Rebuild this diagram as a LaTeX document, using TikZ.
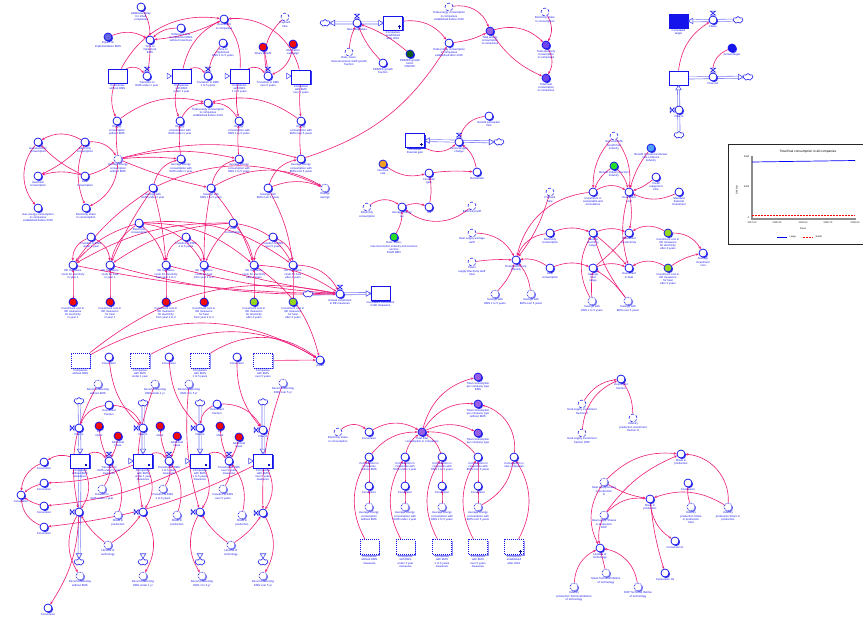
\documentclass[tikz,border=0pt]{standalone}
\usepackage{fontspec}
\setmainfont{Liberation Sans}
\usetikzlibrary{arrows.meta,calc,shapes.symbols,shadows}
\pgfdeclarelayer{bg}
\pgfsetlayers{bg,main}
\definecolor{linkpink}{RGB}{238,30,122}
\definecolor{varblue}{RGB}{20,20,235}
\definecolor{pipeblue}{RGB}{120,120,245}
\definecolor{shadeblue}{RGB}{60,60,220}
\definecolor{purplefill}{RGB}{150,95,230}
\definecolor{violetfill}{RGB}{110,70,235}
\definecolor{brightgreen}{RGB}{40,220,40}
\definecolor{darkgreen}{RGB}{15,90,30}
\definecolor{limefill}{RGB}{150,215,30}
\definecolor{orangefill}{RGB}{240,160,30}
\definecolor{skyfill}{RGB}{80,160,245}
\definecolor{redfill}{RGB}{240,10,10}
\definecolor{impfill}{RGB}{100,100,225}
\tikzset{
  lab/.style={font=\fontsize{2.8}{3.2}\selectfont, text=varblue, align=center, inner sep=0.4pt},
  var/.style={circle, draw=varblue, line width=0.75pt, fill=white, minimum size=8pt, inner sep=0pt,
    drop shadow={shadow xshift=1.1pt, shadow yshift=-1.1pt, fill=varblue!85, opacity=1}},
  tvar/.style={circle, draw=varblue, line width=0.7pt, densely dotted, fill=white, minimum size=8pt, inner sep=0pt,
    drop shadow={shadow xshift=1.1pt, shadow yshift=-1.1pt, fill=varblue!55, opacity=1}},
  ghost/.style={circle, draw=varblue, line width=0.55pt, densely dashed, fill=white, minimum size=8pt, inner sep=0pt},
  stock/.style={rectangle, draw=varblue, line width=0.9pt, fill=white, minimum width=19pt, minimum height=14pt, inner sep=0pt,
    drop shadow={shadow xshift=1.2pt, shadow yshift=-1.2pt, fill=varblue!85, opacity=1}},
  hstock/.style={rectangle, draw=varblue, line width=1pt, densely dotted, fill=white, minimum width=19pt, minimum height=15pt, inner sep=0pt,
    drop shadow={shadow xshift=1.3pt, shadow yshift=-1.3pt, fill=varblue!45, opacity=1}},
  cloudn/.style={cloud, cloud puffs=7, aspect=1.5, draw=varblue, fill=white, line width=0.55pt, minimum width=10pt, minimum height=7pt, inner sep=0pt},
  bowtie/.style={draw=varblue, fill=white, line width=0.55pt},
  pipe/.style={draw=pipeblue, line width=0.6pt, double=white, double distance=1.5pt},
  pipetip/.style={draw=varblue!80, fill=white, line width=0.55pt},
  cn/.style={draw=linkpink, line width=0.62pt, -{Stealth[length=2.8pt,width=2.4pt]}},
  gtext/.style={font=\fontsize{2.4}{2.7}\selectfont, inner sep=0.5pt}
}
% variable with its name written below
\newcommand\vv[4][var]{\node[#1,label={[lab]below:{#4}}] (#2) at (#3) {};}
% flow valves: bow tie above (horizontal pipe) or to the left (vertical pipe)
\newcommand\hvalve[3]{\vv{#1}{#2}{#3}\draw[bowtie] ($(#1)+(-2.5,-8.8)$) -- ++(5,0) -- ++(-5,4) -- ++(5,0) -- cycle;}
\newcommand\vvalve[3]{\vv{#1}{#2}{#3}\draw[bowtie] ($(#1)+(-8.8,-2.5)$) -- ++(0,5) -- ++(4,-5) -- ++(0,5) -- cycle;}
% open head at the end of a pipe
\newcommand\ptip[2]{\draw[pipetip,shift={(#1)},rotate=#2] (0,0) -- (-4.5,2.8) -- (-4.5,-2.8) -- cycle;}
% causal link
\newcommand\lk[3]{\draw[cn] (#1) to[bend left={#3}] (#2);}
\begin{document}
\begin{tikzpicture}[x=1pt,y=-1pt]
\useasboundingbox (0,0) rectangle (863,618);

% ---------------- companies and EMS adoption ----------------
\vv{ad}{141,7}{Additional delay\\for small\\companies}
\vv[var,fill=impfill]{imp}{108,37}{Impact on\\implementation EMS}
\vv{tti}{150,40}{Time to\\implement\\EMS}
\vv{ref}{181,28}{Reference time\\to implement EMS\\without incentives}
\vv{inv}{224,19}{Investment\\in companies}
\vv[ghost]{pay}{285,17}{Payback\\time}
\vv{tti2}{223,43}{Time to\\implement\\EMS 1 to 5 years}
\vv[var,fill=redfill]{shb}{263,47}{Share benefit}
\vv[var,fill=redfill]{inf}{293,44}{Information\\campaign}
\vv[stock]{s0}{117.5,76}{Companies\\without EMS}
\hvalve{v01}{147,76}{Transition to\\EMS under 1 year}
\vv[stock]{s1}{181.5,76}{Companies\\with EMS\\under 1 year}
\hvalve{v12}{208,76}{Transition to EMS\\1 to 5 years}
\vv[stock]{s2}{239.5,76}{Companies\\with EMS\\1 to 5 years}
\hvalve{v23}{268,76}{Transition to EMS\\over 5 years}
\vv[stock]{s3}{301,77}{Companies\\with EMS\\over 5 years}

\vv{tec0}{208,103}{Total energy consumption\\in companies\\established before 2016}
\vv{ec0}{117,121}{Energy\\consumption\\without EMS}
\vv{ec1}{180,121}{Energy\\consumption with\\EMS under 1 year}
\vv{ec2}{239,121}{Energy\\consumption with\\EMS 1 to 5 years}
\vv{ec3}{301,121}{Energy\\consumption with\\EMS over 5 years}
\vv[tvar]{av0}{118,159}{Average energy\\consumption\\without EMS}
\vv{av1}{181,159}{Average energy\\consumption with\\EMS under 1 year}
\vv{av2}{239,159}{Average energy\\consumption with\\EMS 1 to 5 years}
\vv{av3}{301,159}{Average energy\\consumption with\\EMS over 5 years}
\vv{gel}{38,142}{Gas/electricity\\consumption}
\vv{elc}{85,142}{Electricity\\consumption}
\vv{ghc}{38,176}{Gas/heat\\consumption}
\vv{hc}{85,176}{Heat\\consumption}
\vv{gec}{38,208}{Gas energy consumption\\in companies\\established before 2016}
\vv{esc}{86,208}{Electricity share\\in consumption}
\vv{sv0}{153,188}{Savings with\\EMS under 1 year}
\vv{sv1}{211,188}{Savings with\\EMS 1 to 5 years}
\vv{sv2}{268,188}{Savings with\\EMS over 5 years}
\vv[tvar]{esv}{325,188}{Energy\\savings}

% ---------------- new companies ----------------
\node[cloudn] (cg) at (325,23) {};
\hvalve{gr}{357,23}{New companies}
\vv[stock]{sa}{393,23}{Companies\\established\\after 2016}
\vv[ghost]{rmg}{349,52}{Rate, mean,\\macroeconomic GDP growth\\fraction}
\vv{pgf}{383,63}{PRIMES growth\\fraction}
\vv[var,fill=darkgreen]{pgo}{410,54}{PRIMES growth\\factor\\ON/OFF}
\vv{tea}{449,43}{Total energy consumption\\in companies\\established after 2016}
\vv[ghost]{teb}{449,7}{Total energy consumption\\in companies\\established before 2016}
\vv[var,fill=purplefill]{tec}{490,31}{Total energy\\consumption\\in companies}
\vv[ghost]{esg}{545,12}{Electricity share\\in consumption}
\vv[var,fill=violetfill]{tel}{546,45}{Total electricity\\consumption\\in companies}
\vv[var,fill=violetfill]{thc}{546,78}{Total heat\\consumption\\in companies}

% ---------------- target accounting ----------------
\node[stock,fill=varblue,label={[lab]below:{Cumulated\\target}}] (ct) at (678.5,21) {};
\hvalve{fl}{713,20}{Flows}
\node[cloudn] (cfl) at (738,20) {};
\vv[var,fill=varblue]{atg}{732,48}{Annual target}
\vv[stock]{st}{678.5,78}{}
\hvalve{fo}{713,77}{Flow out}
\node[cloudn] (cfo) at (748,77) {};
\vvalve{fi}{679,110}{Flow in}
\node[cloudn] (cfi) at (679,135) {};

% ---------------- perceived financial gain ----------------
\vv[stock]{pfg}{415,140.5}{Perceived\\financial gain}
\hvalve{fgc}{459,142}{Financial gain\\change}
\node[cloudn] (cfg) at (499,142) {};
\vv{bpt}{489,116}{Benefit perception\\time}
\vv{nb}{477,172}{Net benefit}
\vv[var,fill=orangefill]{dr}{383,164}{Discount\\rate}
\vv{fg}{429,173}{Financial\\gain}
\vv{tax}{429,207}{Tax}
\vv[ghost]{elc3}{367,207}{Electricity\\consumption}
\vv{aet}{402,207}{Average energy\\tax}
\vv[var,fill=brightgreen]{rmi}{394,237}{Rate, mean,\\macroeconomic industry and services\\sectors\\EU28 BEN}
\vv[ghost]{etf}{472,206}{Electricity tariff}
\vv[ghost]{hst}{472,233}{Heat supply average\\tariff}
\vv[ghost]{pst}{472,262}{Power\\supply Electricity tariff\\total}
\vv{eei}{516,260}{Energy efficiency\\intensity}
\vv[ghost]{pbt}{550,192}{Payback\\time}
\vv{ec5}{550,233}{Electricity\\consumption}
\vv{hc5}{550,268}{Heat\\consumption}
\vv[tvar]{sw1}{495,294}{Savings with\\EMS 1 to 5 years}
\vv[tvar]{sw2}{531,294}{Savings with\\EMS over 5 years}
\vv{ser}{593,233}{Savings\\electricity\\range}
\vv{shr}{593,268}{Savings\\heat\\range}
\vv[tvar]{sw3}{592,301}{Savings with\\EMS 1 to 5 years}
\vv[tvar]{sw4}{628,301}{Savings with\\EMS over 5 years}
\vv{ie}{629,233}{Investment\\in electricity}
\vv{ih}{629,268}{Investment\\in heat}
\vv{isr}{593,192}{Investment in\\sustainable and\\renovations}
\vv[ghost]{gbi}{614,136}{Gas and EMS\\benefit fuel\\industry}
\vv[var,fill=brightgreen]{bif}{614,166}{Benefit industry fraction\\industry}
\vv{ipa}{629,192}{Investment\\cost}
\vv[var,fill=skyfill]{bfi}{651,148}{Benefit of financial interest\\rate of device\\industry}
\vv{crt}{656,177}{Credit\\repayment\\time}
\vv{sfi}{679,192}{Standard\\financial\\investment}
\vv[var,fill=limefill]{iel}{668,233}{Investment cost in\\EE measures\\for electricity\\after 4 years}
\vv[var,fill=limefill]{iht}{668,268}{Investment cost in\\EE measures\\for heat\\after 4 years}
\vv{aic}{703,253}{Average\\investment\\cost}

% ---------------- EE measures costs ----------------
\vv{elc2}{139,223}{Electricity\\consumption}
\vv{hc2}{233,223}{Heat\\consumption}
\vv{d1}{91,237}{Duration to EMS\\under 1 year}
\vv{d2}{186,237}{Duration to EMS\\1 to 5 years}
\vv{d3}{273,237}{Duration to EMS\\over 5 years}
\vv{ee1}{73,265}{EE measures\\costs for electricity\\in year 1}
\vv{ee2}{110,265}{EE measures\\costs for heat\\in year 1}
\vv{ee3}{166,265}{EE measures\\costs for electricity\\from year 2 to 4}
\vv{ee4}{204,265}{EE measures\\costs for heat\\from year 2 to 4}
\vv{ee5}{254,265}{EE measures\\costs for electricity\\after 4 years}
\vv{ee6}{293,265}{EE measures\\costs for heat\\after 4 years}
\vv[var,fill=redfill]{ic1}{73,302}{Investment cost in\\EE measures\\for electricity\\in year 1}
\vv[var,fill=redfill]{ic2}{110,302}{Investment cost in\\EE measures\\for heat\\in year 1}
\vv[var,fill=redfill]{ic3}{166,302}{Investment cost in\\EE measures\\for electricity\\from year 2 to 4}
\vv[var,fill=redfill]{ic4}{204,302}{Investment cost in\\EE measures\\for heat\\from year 2 to 4}
\vv[var,fill=limefill]{ic5}{254,302}{Investment cost in\\EE measures\\for electricity\\after 4 years}
\vv[var,fill=limefill]{ic6}{293,302}{Investment cost in\\EE measures\\for heat\\after 4 years}
\node[cloudn] (cai) at (308,294) {};
\hvalve{vai}{340,294}{Annual investment\\in EE measures}
\vv[stock]{sai}{380.5,293.5}{Cumulated investment\\in EE measures}
\vv{areas}{320,360}{Areas}

\vv[hstock]{h0}{80.5,360.5}{Companies\\without EMS}
\vv{cv0}{109,357}{Conversion}
\vv[hstock]{h1}{140,360.5}{Companies\\with EMS\\under 1 year}
\vv{cv1}{169,357}{Conversion}
\vv[hstock]{h2}{200,360.5}{Companies\\with EMS\\1 to 5 years}
\vv{cv2}{237,357}{Conversion}
\vv[hstock]{h3}{263,360.5}{Companies\\with EMS\\over 5 years}
\vv[tvar]{dc0}{98,384}{Decommissioning\\without EMS}
\vv[tvar]{dc1}{155,384}{Decommissioning\\EMS under 1 yr}
\vv[tvar]{dc2}{189,384}{Decommissioning\\EMS 1 to 5 yr}
\vv[tvar]{dc3}{283,383}{Decommissioning\\EMS over 5 yr}

% ---------------- companies with measures ----------------
\node[cloudn] (c0) at (79,401) {};
\node[cloudn] (c1) at (143,403) {};
\node[cloudn] (c2) at (200,403) {};
\node[cloudn] (c3) at (263,402) {};
\vv{if0}{109,405}{Investment\\fraction}
\vv{if1}{217,404}{Investment\\fraction}
\vvalve{vi0}{79,428}{Flow in}
\vvalve{vi1}{143,428}{Flow in}
\vvalve{vi2}{200,428}{Flow in}
\vvalve{vi3}{263,430}{Flow in}
\vv[var,fill=redfill]{r01}{99,426}{EE\\share}
\vv[var,fill=redfill]{r02}{118,436}{Additional\\share}
\vv[var,fill=redfill]{r11}{160,426}{EE\\share}
\vv[var,fill=redfill]{r12}{177,436}{Additional\\share}
\vv[var,fill=redfill]{r21}{220,426}{EE\\share}
\vv[var,fill=redfill]{r22}{239,437}{Additional\\share}
\vv[stock]{m0}{80,461}{Companies\\without EMS\\measures}
\vv[stock]{m1}{143,461}{Companies\\with EMS\\under 1 year\\measures}
\vv[stock]{m2}{200,461}{Companies\\with EMS\\1 to 5 years\\measures}
\vv[stock]{m3}{263,461}{Companies\\with EMS\\over 5 years\\measures}
\foreach \m in {m0,m1,m2,m3}{\fill[varblue!80!black] ($(\m.south east)+(-4.5,-2)$) rectangle ++(2,-2);}
\hvalve{t01}{109,461}{Transition to\\EMS under 1 year\\measures}
\hvalve{t12}{169,461}{Transition to EMS\\1 to 5 years\\measures}
\hvalve{t23}{229,461}{Transition to EMS\\over 5 years\\measures}
\vv[tvar]{du0}{102,489}{Duration to\\EMS under 1 year}
\vv[tvar]{du1}{163,489}{Duration to EMS\\1 to 5 years}
\vv[tvar]{du2}{223,489}{Duration to EMS\\over 5 years}
\vv[tvar]{sp0}{118,515}{Share in\\production}
\vv[tvar]{sp1}{177,515}{Share in\\production}
\vv[tvar]{sp2}{242,515}{Share in\\production}
\vv[tvar]{lt0}{108,545}{Lifetime of\\technology}
\vv[tvar]{lt1}{231,545}{Lifetime of\\technology}
\vvalve{vo0}{79,512}{}
\vvalve{vo1}{143,512}{}
\vvalve{vo2}{200,512}{}
\vvalve{vo3}{263,513}{}
\node[cloudn] (k0) at (79,562) {};
\node[cloudn] (k1) at (143,562) {};
\node[cloudn] (k2) at (200,562) {};
\node[cloudn] (k3) at (263,562) {};
\vv[tvar]{dd0}{80,576}{Decommissioning\\without EMS}
\vv[tvar]{dd1}{143,576}{Decommissioning\\EMS under 1 yr}
\vv[tvar]{dd2}{202,576}{Decommissioning\\EMS 1 to 5 yr}
\vv[tvar]{dd3}{263,576}{Decommissioning\\EMS over 5 yr}
\vv{cl1}{44,462}{Conversion}
\vv{cl2}{44,483}{Conversion}
\vv{cl3}{44,506}{Conversion}
\vv{cl4}{44,527}{Conversion}
\vv{cl0}{21,495}{Conversion}
\vv{cb}{48,608}{Conversion}

% ---------------- consumption per company type ----------------
\vv[ghost]{esh}{338,432}{Electricity share\\in consumption}
\vv{cvm}{369,432}{Conversion}
\vv[var,fill=purplefill]{tfc}{422,432}{Total final\\consumption in companies}
\vv[var,fill=purplefill]{tc1}{478,377}{Total consumption\\per company type\\EMS}
\vv[var,fill=purplefill]{tc2}{478,404}{Total consumption\\per company type\\without EMS}
\vv[var,fill=purplefill]{tc3}{478,433}{Total consumption\\per company type}
\vv{cc0}{369,457}{Consumption in\\companies\\without EMS}
\vv{cc1}{405,457}{Consumption in\\companies with\\EMS under 1 year}
\vv{cc2}{442,457}{Consumption in\\companies with\\EMS 1 to 5 years}
\vv{cc3}{478,457}{Consumption in\\companies with\\EMS over 5 years}
\vv{cc4}{514,457}{Consumption in\\new companies}
\vv{cn0}{369,486}{Conversion}
\vv{cn1}{405,486}{Conversion}
\vv{cn2}{442,486}{Conversion}
\vv{cn3}{478,486}{Conversion}
\vv[tvar]{ae0}{369,507}{Average energy\\consumption\\without EMS}
\vv[tvar]{ae1}{405,507}{Average energy\\consumption with\\EMS under 1 year}
\vv[tvar]{ae2}{442,507}{Average energy\\consumption with\\EMS 1 to 5 years}
\vv[tvar]{ae3}{478,507}{Average energy\\consumption with\\EMS over 5 years}
\vv[hstock]{hs0}{369.5,547}{Companies\\without EMS\\measures}
\vv[hstock]{hs1}{405.5,547}{Companies\\with EMS\\under 1 year\\measures}
\vv[hstock]{hs2}{442,547}{Companies\\with EMS\\1 to 5 years\\measures}
\vv[hstock]{hs3}{478,547}{Companies\\with EMS\\over 5 years\\measures}
\vv[hstock]{hs4}{514,547}{Companies\\established\\after 2016}

% ---------------- heat supply technologies ----------------
\vv[ghost]{hif}{582,404}{Heat supply investment\\fraction H}
\vv[ghost]{hid}{582,433}{Heat supply investment\\fraction DHP}
\vv[ghost]{ipf}{633,418}{Industry\\production investment\\fraction H}
\vv{ifr}{621,379}{Investment\\fraction}
\vv[tvar]{hb}{604,482}{Heat supply boilers\\in production\\H}
\vv[tvar]{hd}{604,515}{Heat supply Shares\\in production\\DHP}
\vv{lt}{600,548}{Lifetime of\\technology}
\vv[tvar]{mtl}{606,573}{Mean Technical lifetime\\of technology}
\vv[tvar]{itl}{574,587}{Industry\\production Technical lifetime\\of technology}
\vv[tvar]{dtl}{638,587}{DHP Technical lifetime\\of technology}
\vv{sp4}{681,454}{Share in\\production}
\vv{cv4}{688,483}{Conversion}
\vv{sp5}{650,499}{Share in\\production}
\vv[tvar]{ips}{691,507}{Industry\\production Share\\in production\\total}
\vv[tvar]{ipp}{728,507}{Industry\\production Share in\\production}
\vv{cvh}{675,541}{Conversion H}
\vv{cvs}{665,573}{Conversion Hs}

% small marks inside some stocks
\foreach \s in {sa,pfg,hs4}{\draw[varblue!70!black,line width=0.4pt] ($(\s.south east)+(-3.5,-1.5)$) -- ++(0,-3.5) ($(\s.south east)+(-5,-3.8)$) -- ++(3,0);}

% ---------------- pipes and links ----------------
\begin{pgfonlayer}{bg}
\draw[pipe] (s0.east) -- (s1.west);
\draw[pipe] (s1.east) -- (s2.west);
\draw[pipe] (s2.east) -- (v23) -- (v23 -| s3.west);
\draw[pipe] (cg) -- (sa.west);
\draw[pipe] (cfl) -- (ct.east);
\draw[pipe] (st.east) -- (cfo);
\draw[pipe] (cfi) -- (st.south);
\draw[pipe] (pfg.east) -- (cfg);
\draw[pipe] (cai) -- (sai.west);
\draw[pipe] (c0) -- (m0.north); \draw[pipe] (m0.south) -- (k0);
\draw[pipe] (c1) -- (m1.north); \draw[pipe] (m1.south) -- (k1);
\draw[pipe] (c2) -- (m2.north); \draw[pipe] (m2.south) -- (k2);
\draw[pipe] (c3) -- (m3.north); \draw[pipe] (m3.south) -- (k3);
\draw[pipe] (m0.east) -- (m1.west);
\draw[pipe] (m1.east) -- (m2.west);
\draw[pipe] (m2.east) -- (m3.west);

% adoption block
\lk{ad}{tti}{15} \lk{imp}{tti}{25} \lk{ref}{tti}{-20} \lk{tti}{v01}{5}
\lk{s0}{v01}{40} \lk{s0}{inv}{35} \lk{s1}{inv}{25} \lk{s2}{inv}{-20} \lk{s3}{inv}{-40}
\lk{inv}{tti}{10} \lk{s1}{v12}{40} \lk{s2}{v23}{40} \lk{tti2}{v12}{-15}
\lk{pay}{v23}{-30} \lk{shb}{v23}{5} \lk{inf}{v23}{30}
\lk{s0}{ec0}{-20} \lk{s1}{ec1}{-20} \lk{s2}{ec2}{-10} \lk{s3}{ec3}{-5}
\lk{ec0}{tec0}{25} \lk{ec1}{tec0}{30} \lk{ec2}{tec0}{-30} \lk{ec3}{tec0}{-25}
\lk{av0}{ec0}{5} \lk{av1}{ec1}{5} \lk{av2}{ec2}{5} \lk{av3}{ec3}{5}
\lk{elc}{gel}{-30} \lk{elc}{ghc}{10} \lk{hc}{gel}{10} \lk{hc}{ghc}{-15}
\lk{gel}{gec}{-40} \lk{elc}{esc}{-20} \lk{elc}{av0}{30} \lk{hc}{av0}{-10} \lk{av0}{esc}{30}
\lk{av0}{av1}{5} \lk{av0}{av2}{12} \lk{av0}{av3}{15} \lk{av0}{sv1}{-5}
\lk{sv0}{av1}{30} \lk{sv1}{av2}{30} \lk{sv2}{av3}{30}
\lk{sv0}{esv}{25} \lk{sv1}{esv}{30} \lk{sv2}{esv}{20}

% new companies and totals
\lk{rmg}{gr}{10} \lk{pgf}{gr}{10} \lk{pgo}{gr}{-10}
\lk{sa}{tea}{30} \lk{av3}{tea}{-20}
\lk{teb}{tec}{40} \lk{tea}{tec}{-10} \lk{tec}{tel}{30} \lk{tec}{thc}{-15}
\lk{esg}{tel}{30} \lk{tel}{thc}{30}

% target accounting
\draw[cn] (st.north) to[bend left=25] (fl);
\lk{atg}{fo}{-35}

% financial gain and energy tax
\lk{bpt}{fgc}{-35} \lk{nb}{fgc}{-20} \lk{pfg}{fgc}{-35}
\lk{dr}{fg}{-25} \lk{fg}{nb}{5} \lk{tax}{fg}{-10}
\lk{elc3}{aet}{35} \lk{rmi}{aet}{-15} \lk{aet}{tax}{20} \lk{etf}{aet}{40}

% energy efficiency intensity and investment
\lk{hst}{eei}{30} \lk{pst}{eei}{5} \lk{sw1}{eei}{-10} \lk{sw2}{eei}{-15}
\lk{ec5}{eei}{-30} \lk{hc5}{eei}{-20} \lk{pbt}{eei}{10} \lk{isr}{eei}{-35}
\lk{ec5}{ser}{20} \lk{hc5}{shr}{20} \lk{ser}{ie}{20} \lk{shr}{ih}{20}
\lk{ser}{ih}{5} \lk{shr}{ie}{-5}
\lk{sw3}{ser}{30} \lk{sw3}{shr}{5} \lk{sw4}{ser}{10} \lk{sw4}{shr}{-10}
\lk{gbi}{isr}{-20} \lk{bif}{isr}{-15} \lk{gbi}{ipa}{20} \lk{bif}{ipa}{15}
\lk{isr}{ipa}{30} \lk{bfi}{ipa}{-10} \lk{crt}{ipa}{10} \lk{sfi}{ipa}{25}
\lk{ipa}{ie}{10} \lk{ipa}{ih}{-15}
\lk{iel}{ie}{-30} \lk{iht}{ih}{-30} \lk{iel}{aic}{30} \lk{iht}{aic}{10}

% EE measures costs
\lk{elc2}{ee1}{-15} \lk{elc2}{ee2}{-20} \lk{elc2}{ee3}{15} \lk{elc2}{ee4}{25}
\lk{elc2}{ee5}{20} \lk{elc2}{ee6}{20}
\lk{hc2}{ee1}{-15} \lk{hc2}{ee2}{-15} \lk{hc2}{ee4}{-10} \lk{hc2}{ee5}{15} \lk{hc2}{ee6}{25}
\lk{d1}{ee1}{-35} \lk{d1}{ee2}{30} \lk{d2}{ee3}{-30} \lk{d2}{ee4}{30}
\lk{d3}{ee5}{-30} \lk{d3}{ee6}{30}
\lk{ic1}{ee1}{0} \lk{ic2}{ee2}{0} \lk{ic3}{ee3}{0} \lk{ic4}{ee4}{0} \lk{ic5}{ee5}{0} \lk{ic6}{ee6}{0}
\lk{ee1}{vai}{-5} \lk{ee2}{vai}{-8} \lk{ee3}{vai}{-5} \lk{ee4}{vai}{-3}
\lk{ee5}{vai}{15} \lk{ee6}{vai}{30}
\lk{sv0}{ee1}{-10} \lk{sv0}{ee2}{-5} \lk{sv0}{ee3}{5}
\lk{sv1}{ee4}{-5} \lk{sv1}{ee5}{10} \lk{sv2}{ee6}{10}
\lk{ee5}{areas}{20}
\lk{h0}{areas}{30} \lk{h1}{areas}{30} \lk{h2}{areas}{35} \lk{h3}{areas}{0}
\lk{h0}{vai}{25}
\lk{cv0}{vi1}{-20} \lk{cv1}{vi2}{-20} \lk{cv2}{vi3}{-20}
\lk{dc0}{vo0}{-20} \lk{dc1}{vo1}{-15} \lk{dc2}{vo2}{-10} \lk{dc3}{vo3}{-10}

% companies with measures
\lk{if0}{vi0}{-30} \lk{if0}{vi1}{30} \lk{if1}{vi2}{-30} \lk{if1}{vi3}{30}
\lk{r01}{t01}{-10} \lk{r02}{t01}{10} \lk{r11}{t12}{-10} \lk{r12}{t12}{10}
\lk{r21}{t23}{-10} \lk{r22}{t23}{10}
\lk{m0}{t01}{40} \lk{m1}{t12}{40} \lk{m2}{t23}{40}
\lk{du0}{t01}{-20} \lk{du1}{t12}{-20} \lk{du2}{t23}{-20}
\lk{sp0}{t01}{-25} \lk{sp1}{t12}{-25} \lk{sp2}{t23}{-25}
\lk{lt0}{vo0}{10} \lk{lt0}{vo1}{-10} \lk{lt1}{vo2}{10} \lk{lt1}{vo3}{-10}
\lk{m0}{vo0}{30} \lk{m1}{vo1}{30} \lk{m2}{vo2}{30} \lk{m3}{vo3}{30}
\lk{vo0}{dd0}{-30} \lk{vo1}{dd1}{30} \lk{vo2}{dd2}{-30} \lk{vo3}{dd3}{30}
\lk{vo0}{cb}{15}
\lk{m0}{cl1}{-25} \lk{m1}{cl2}{10} \lk{m2}{cl3}{10} \lk{m3}{cl4}{10}
\lk{cl1}{cl0}{-30} \lk{cl2}{cl0}{-10} \lk{cl3}{cl0}{10} \lk{cl4}{cl0}{30}

% consumption per company type
\lk{esh}{cvm}{40} \lk{cvm}{tfc}{30}
\lk{cc0}{tfc}{25} \lk{cc1}{tfc}{20} \lk{cc2}{tfc}{-20} \lk{cc3}{tfc}{-25}
\lk{tfc}{tc1}{30} \lk{tfc}{tc2}{30} \lk{tfc}{tc3}{25} \lk{cc4}{tc2}{-40}
\lk{cn0}{cc0}{0} \lk{cn1}{cc1}{0} \lk{cn2}{cc2}{0} \lk{cn3}{cc3}{0}
\lk{ae0}{cn0}{0} \lk{ae1}{cn1}{0} \lk{ae2}{cn2}{0} \lk{ae3}{cn3}{0}
\lk{hs0}{cc0}{30} \lk{hs1}{cc1}{30} \lk{hs2}{cc2}{30} \lk{hs3}{cc3}{30} \lk{hs4}{cc4}{-30}
\lk{ae3}{cc4}{-25}

% heat supply technologies
\lk{hif}{ifr}{25} \lk{hid}{ifr}{30} \lk{ipf}{ifr}{-15}
\lk{hb}{sp4}{25} \lk{hb}{sp5}{-10} \lk{hd}{sp5}{25} \lk{hd}{sp4}{15}
\lk{hb}{lt}{-30} \lk{hd}{lt}{-15} \lk{itl}{lt}{30} \lk{mtl}{lt}{0} \lk{dtl}{lt}{-35}
\lk{ipp}{sp4}{-45} \lk{ipp}{sp5}{-25} \lk{ips}{cv4}{10}
\lk{sp5}{cvh}{-25} \lk{sp5}{cvs}{-5}
\end{pgfonlayer}

% pipe heads
\ptip{s1.west}{0} \ptip{s2.west}{0} \ptip{v23 -| s3.west}{0}
\ptip{sa.west}{0} \ptip{cg.east}{180}
\ptip{ct.east}{180} \ptip{cfo.west}{0} \ptip{st.south}{90}
\ptip{pfg.east}{180} \ptip{cfg.west}{0}
\ptip{sai.west}{0}
\ptip{m0.north}{-90} \ptip{m1.north}{-90} \ptip{m2.north}{-90} \ptip{m3.north}{-90}
\ptip{k0.north}{-90} \ptip{k1.north}{-90} \ptip{k2.north}{-90} \ptip{k3.north}{-90}
\ptip{m1.west}{0} \ptip{m2.west}{0} \ptip{m3.west}{0}

% ---------------- graph panel ----------------
\draw[line width=1pt, draw=black!85] (728,144) rectangle (875,244);
\node[font=\fontsize{3.2}{3.6}\selectfont] at (808,152) {Total final consumption in all companies};
\draw[black!45, line width=1.1pt] (752,156) -- (752,219) -- (856,219);
\node[gtext, anchor=east] at (750,157) {2000};
\node[gtext, anchor=east] at (750,187) {1000};
\node[gtext, anchor=east] at (750,218) {0};
\node[gtext, rotate=90] at (737,190) {GWh/yr};
\draw[blue, line width=0.7pt] (752,162) -- (855,160.5);
\draw[red, line width=0.7pt, dash pattern=on 1.5pt off 1.5pt] (752,215) -- (855,215);
\node[gtext] at (752,223) {2017.00};
\node[gtext] at (777,223) {2020.25};
\node[gtext] at (803,223) {2023.50};
\node[gtext] at (828,223) {2026.75};
\node[gtext] at (855,223) {2030.00};
\node[gtext] at (803,229) {Years};
\draw[blue, line width=0.7pt] (777,237) -- (787,237);
\node[gtext, anchor=west] at (789,237) {Large};
\draw[red, line width=0.7pt, dash pattern=on 1.5pt off 1.5pt] (803,237) -- (813,237);
\node[gtext, anchor=west] at (815,237) {Small};
\end{tikzpicture}
\end{document}
